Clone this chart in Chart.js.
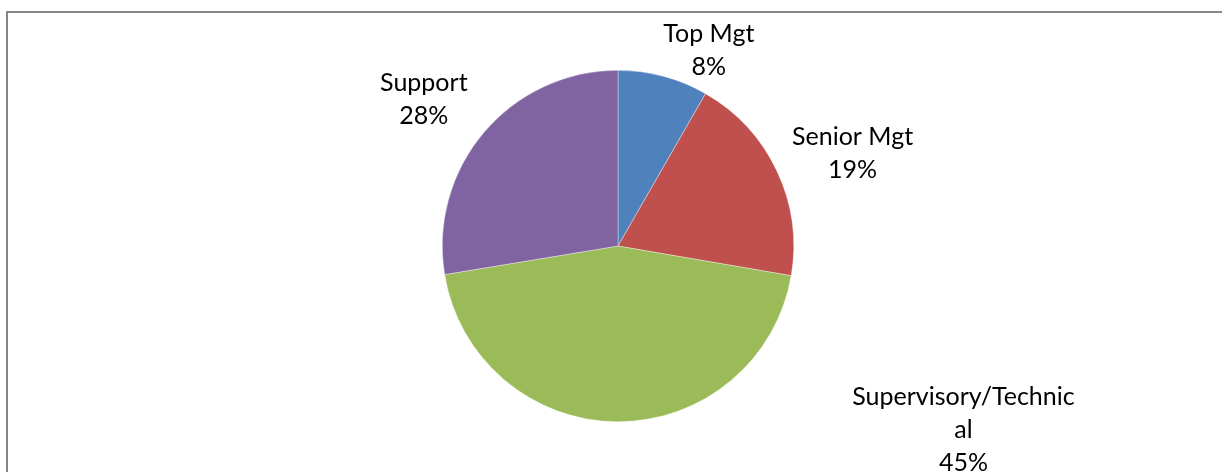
<!DOCTYPE html>
<html>
<head>
<meta charset="utf-8">
<script src="https://cdn.jsdelivr.net/npm/chart.js@4"></script>
<style>
  html, body { margin: 0; padding: 0; background: #fff; overflow: hidden; }
  #frame {
    position: absolute; left: 6px; top: 11px;
    width: 1400px; height: 600px;
    border-left: 2px solid #868686; border-top: 2px solid #868686;
  }
  #wrap { position: absolute; left: 0; top: 0; width: 1222px; height: 472px; }
</style>
</head>
<body>
<div id="frame"></div>
<div id="wrap"><canvas id="myChart"></canvas></div>
<script>
// Staff breakdown by level (share of headcount, %)
const categories = ['Top Mgt', 'Senior Mgt', 'Supervisory/Technical', 'Support'];
const shares = [8.3, 19.4, 44.7, 27.6];
const sliceColors = ['#4f81bd', '#c0504d', '#9bbb59', '#8064a2'];

// Where each label block sits, relative to the pie centre, in units of the radius
const labelSpots = [
  [0.517, -1.111],
  [1.335, -0.526],
  [1.966, 1.045],
  [-1.105, -0.832]
];

// Break a label into lines no wider than maxWidth (char by char, like a text box would)
function wrapText(ctx, text, maxWidth) {
  const lines = [];
  let cur = '';
  for (const ch of text) {
    if (cur && ctx.measureText(cur + ch).width > maxWidth) {
      lines.push(cur);
      cur = ch;
    } else {
      cur += ch;
    }
  }
  if (cur) lines.push(cur);
  return lines;
}

const outsideLabels = {
  id: 'outsideLabels',
  afterDatasetsDraw(chart, args, opts) {
    const ctx = chart.ctx;
    const meta = chart.getDatasetMeta(0);
    const data = chart.data.datasets[0].data;
    const total = data.reduce((a, b) => a + b, 0);
    ctx.save();
    ctx.font = opts.font;
    ctx.fillStyle = opts.color;
    ctx.textAlign = 'center';
    ctx.textBaseline = 'middle';
    meta.data.forEach((arc, i) => {
      const r = arc.outerRadius;
      const cx = arc.x + opts.spots[i][0] * r;
      const cy = arc.y + opts.spots[i][1] * r;
      const pct = Math.round(data[i] / total * 100) + '%';
      const lines = wrapText(ctx, chart.data.labels[i], opts.maxWidth).concat([pct]);
      const top = cy - (lines.length - 1) * opts.lineHeight / 2;
      lines.forEach((ln, k) => ctx.fillText(ln, cx, top + k * opts.lineHeight));
    });
    ctx.restore();
  }
};

const ctx = document.getElementById('myChart').getContext('2d');
new Chart(ctx, {
  type: 'pie',
  data: {
    labels: categories,
    datasets: [{
      data: shares,
      backgroundColor: sliceColors,
      borderWidth: 0.6,
      borderColor: 'rgba(255,255,255,0.6)'
    }]
  },
  options: {
    responsive: true,
    maintainAspectRatio: false,
    animation: false,
    layout: { padding: { top: 70, bottom: 50, left: 14, right: 0 } },
    plugins: {
      legend: { display: false },
      tooltip: { enabled: false },
      outsideLabels: {
        font: '25px Lato, "Open Sans", sans-serif',
        color: '#000',
        lineHeight: 33,
        maxWidth: 228,
        spots: labelSpots
      }
    }
  },
  plugins: [outsideLabels]
});
</script>
</body>
</html>
